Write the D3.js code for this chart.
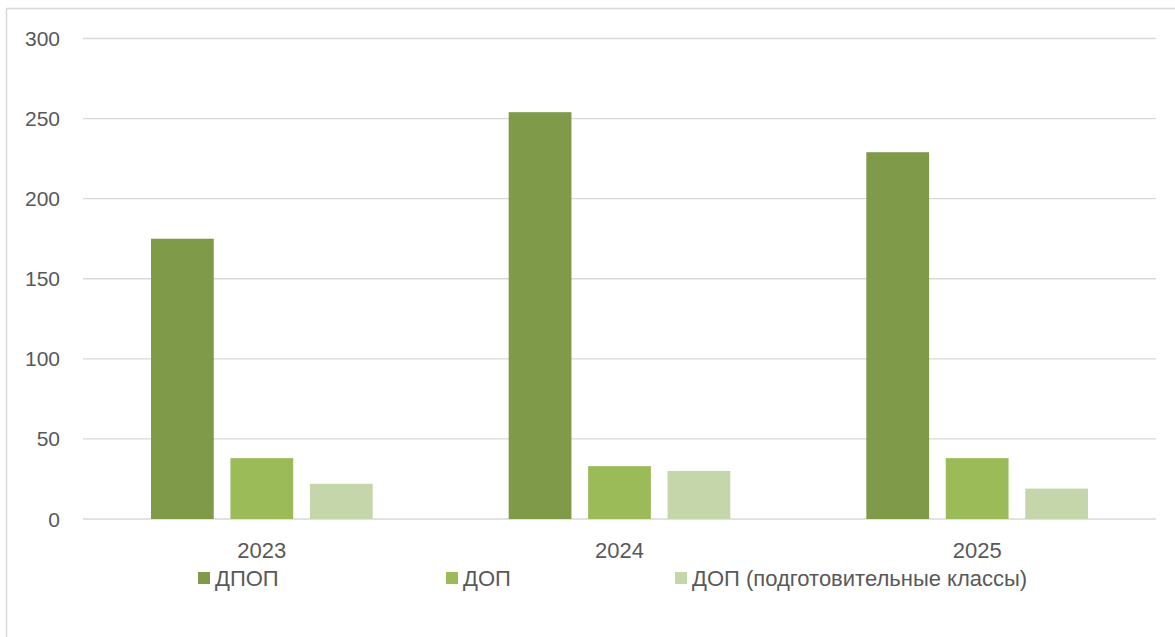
<!DOCTYPE html>
<html>
<head>
<meta charset="utf-8">
<script src="https://cdn.jsdelivr.net/npm/d3@7"></script>
<style>
  body { margin: 0; background: #fff; }
  svg { display: block; font-family: "Liberation Sans", Arial, sans-serif; }
</style>
</head>
<body>
<div id="chart-area"></div>
<script>
var years = ["2023", "2024", "2025"];
var series = ["ДПОП", "ДОП", "ДОП (подготовительные классы)"];
var dpop = [175, 254, 229];
var dop = [38, 33, 38];
var dopPrep = [22, 30, 19];
var yTicks = [0, 50, 100, 150, 200, 250, 300];

var colors = ["#7f9a48", "#9bbb59", "#c6d6ab"];
var values = [dpop, dop, dopPrep];

var svg = d3.select("#chart-area")
  .append("svg")
  .attr("width", 1175)
  .attr("height", 637);

// outer frame
svg.append("path")
  .attr("d", "M6.5,637 V8.5 H1175")
  .attr("fill", "none")
  .attr("stroke", "#d9d9d9")
  .attr("stroke-width", 1.5);

var x = d3.scaleBand()
  .domain(years)
  .range([83, 1156]);

var inner = d3.scaleBand()
  .domain(d3.range(series.length))
  .range([68, x.bandwidth() - 68])
  .paddingInner(0.21);

var y = d3.scaleLinear()
  .domain([0, 300])
  .range([519, 38.5]);

// grid
svg.append("g")
  .selectAll("line")
  .data(yTicks)
  .enter()
  .append("line")
  .attr("x1", 83)
  .attr("x2", 1156)
  .attr("y1", d => y(d))
  .attr("y2", d => y(d))
  .attr("stroke", "#d9d9d9")
  .attr("stroke-width", 1.3);

// y labels
svg.append("g")
  .selectAll("text")
  .data(yTicks)
  .enter()
  .append("text")
  .attr("x", 60)
  .attr("y", d => y(d))
  .attr("dy", "0.36em")
  .attr("text-anchor", "end")
  .attr("font-size", "21px")
  .attr("fill", "#595959")
  .text(d => d);

// bars
var groups = svg.selectAll(".year")
  .data(years)
  .enter()
  .append("g")
  .attr("class", "year")
  .attr("transform", d => "translate(" + x(d) + ",0)");

groups.selectAll("rect")
  .data((d, i) => values.map((v, s) => ({ s: s, v: v[i] })))
  .enter()
  .append("rect")
  .attr("x", d => inner(d.s))
  .attr("width", inner.bandwidth())
  .attr("y", d => y(d.v))
  .attr("height", d => y(0) - y(d.v))
  .attr("fill", d => colors[d.s]);

// x labels
svg.append("g")
  .selectAll("text")
  .data(years)
  .enter()
  .append("text")
  .attr("x", d => x(d) + x.bandwidth() / 2)
  .attr("y", 558)
  .attr("text-anchor", "middle")
  .attr("font-size", "22px")
  .attr("fill", "#595959")
  .text(d => d);

// legend
var legendX = [198, 446, 675];
var legend = svg.selectAll(".legend")
  .data(series)
  .enter()
  .append("g")
  .attr("class", "legend")
  .attr("transform", (d, i) => "translate(" + legendX[i] + ",572)");

legend.append("rect")
  .attr("width", 12)
  .attr("height", 12)
  .attr("fill", (d, i) => colors[i]);

legend.append("text")
  .attr("x", 17)
  .attr("y", 13.5)
  .attr("font-size", "22px")
  .attr("fill", "#595959")
  .text(d => d);
</script>
</body>
</html>
